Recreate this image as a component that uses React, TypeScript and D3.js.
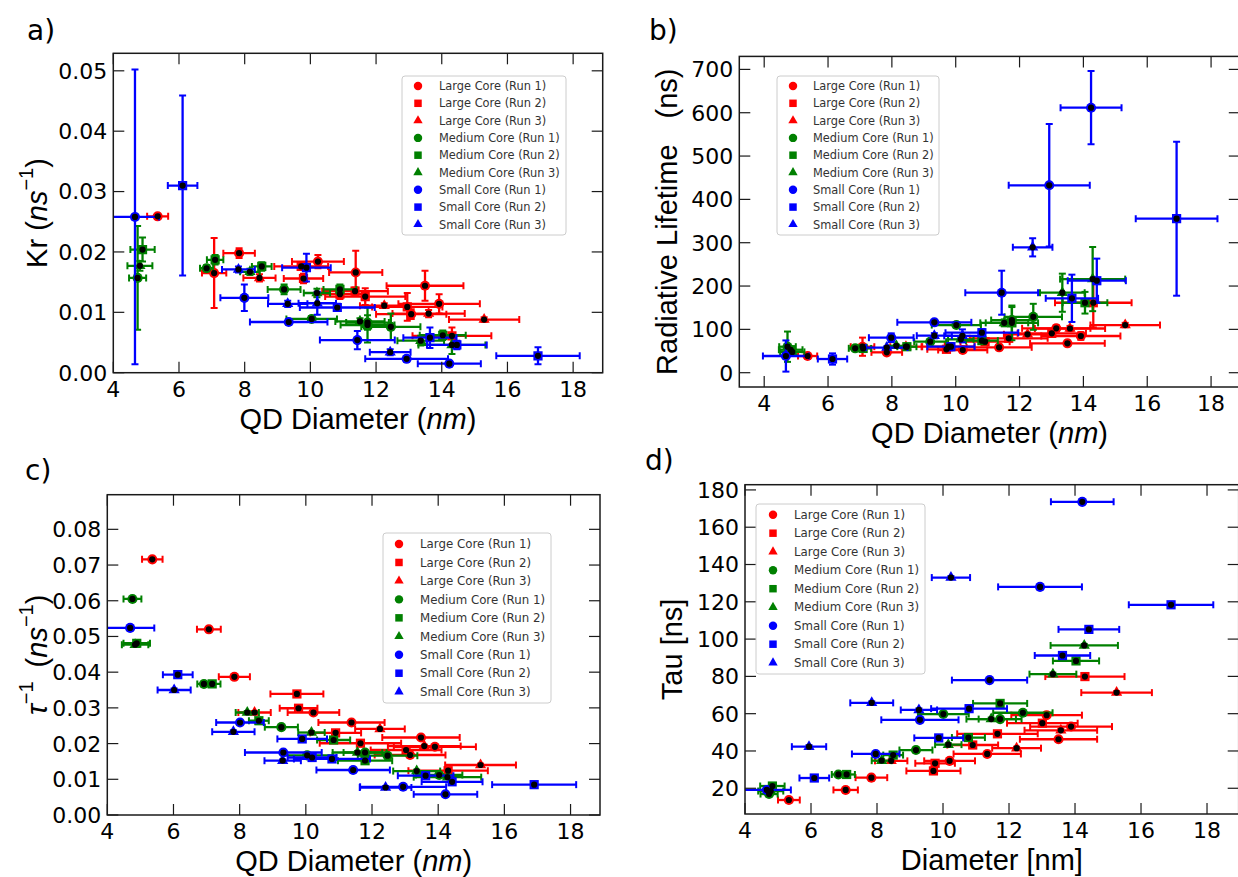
import React from 'react';
import * as d3 from 'd3';

// ---------- series ----------
const SERIES_NAMES = [
  'Large Core (Run 1)', 'Large Core (Run 2)', 'Large Core (Run 3)',
  'Medium Core (Run 1)', 'Medium Core (Run 2)', 'Medium Core (Run 3)',
  'Small Core (Run 1)', 'Small Core (Run 2)', 'Small Core (Run 3)',
];
const SERIES_COLORS = ['#ff0000', '#ff0000', '#ff0000', '#008000', '#008000', '#008000', '#0000ff', '#0000ff', '#0000ff'];
const SERIES_SHAPES = ['circle', 'square', 'triangle', 'circle', 'square', 'triangle', 'circle', 'square', 'triangle'];

// ---------- ticks ----------
const X_TICKS = [4, 6, 8, 10, 12, 14, 16, 18];
const KR_TICKS = [0, 0.01, 0.02, 0.03, 0.04, 0.05];
const LIFETIME_TICKS = [0, 100, 200, 300, 400, 500, 600, 700];
const INVTAU_TICKS = [0, 0.01, 0.02, 0.03, 0.04, 0.05, 0.06, 0.07, 0.08];
const TAU_TICKS = [20, 40, 60, 80, 100, 120, 140, 160, 180];

// [series index, diameter (nm), diameter error, value, value error]
type Pt = [number, number, number, number, number];

const krData: Pt[] = [
  [0, 5.35, 0.32, 0.0259, 0.0003], [0, 7.07, 0.37, 0.0165, 0.0058], [0, 7.83, 0.48, 0.0198, 0.0008],
  [2, 8.45, 0.49, 0.0157, 0.0006], [1, 9.72, 0.82, 0.0176, 0.0006], [1, 9.79, 0.6, 0.0156, 0.0008],
  [0, 10.23, 0.79, 0.0184, 0.0011], [1, 10.9, 0.77, 0.013, 0.0008], [0, 11.38, 0.81, 0.0166, 0.0036],
  [1, 11.36, 1.0, 0.0135, 0.0006], [1, 11.67, 1.22, 0.0126, 0.0014], [2, 12.25, 0.74, 0.0111, 0.0004],
  [1, 12.95, 1.07, 0.0109, 0.0023], [0, 13.07, 1.07, 0.0097, 0.0008], [2, 13.6, 1.1, 0.0098, 0.0006],
  [0, 13.92, 1.24, 0.0114, 0.0016], [0, 13.49, 1.17, 0.0144, 0.0025], [1, 14.31, 1.2, 0.0061, 0.0014],
  [2, 15.29, 1.07, 0.0088, 0.0004],
  [3, 4.74, 0.26, 0.0157, 0.0086], [5, 4.81, 0.38, 0.0177, 0.0008], [4, 4.89, 0.37, 0.0204, 0.002],
  [3, 6.84, 0.2, 0.0173, 0.0005], [4, 7.1, 0.25, 0.0187, 0.0008], [5, 8.16, 0.3, 0.0167, 0.0005],
  [4, 8.52, 0.3, 0.0176, 0.0007], [3, 9.2, 0.5, 0.0138, 0.0008], [3, 10.04, 0.77, 0.0089, 0.0005],
  [5, 10.2, 0.4, 0.0132, 0.0007], [4, 10.9, 0.5, 0.0138, 0.0008], [5, 11.51, 0.75, 0.0085, 0.0005],
  [3, 11.74, 0.65, 0.0083, 0.0012], [4, 11.74, 0.82, 0.0079, 0.0029], [3, 12.45, 0.9, 0.0076, 0.0022],
  [5, 13.36, 0.71, 0.0053, 0.0008], [4, 14.03, 0.7, 0.0062, 0.0008], [5, 14.31, 1.02, 0.0046, 0.0015],
  [6, 4.66, 0.73, 0.0258, 0.0244], [6, 7.99, 0.73, 0.0124, 0.0022], [6, 9.34, 1.18, 0.0084, 0.0004],
  [6, 11.43, 1.14, 0.0054, 0.0015], [6, 12.93, 1.26, 0.0023, 0.0004], [6, 14.23, 0.96, 0.0015, 0.0003],
  [7, 6.11, 0.45, 0.031, 0.0149], [7, 9.88, 0.74, 0.0174, 0.0023], [7, 10.82, 1.14, 0.0108, 0.0006],
  [7, 13.64, 0.81, 0.0058, 0.0017], [7, 14.46, 0.91, 0.0046, 0.0007], [7, 16.93, 1.27, 0.0028, 0.0014],
  [8, 7.81, 0.5, 0.0171, 0.0005], [8, 9.31, 0.6, 0.0114, 0.0005], [8, 10.21, 0.57, 0.0115, 0.0019],
  [8, 12.43, 0.62, 0.0034, 0.0005],
];

const lifetimeData: Pt[] = [
  [0, 5.36, 0.3, 38.5, 3], [0, 7.08, 0.37, 60, 21], [0, 7.84, 0.48, 47, 4],
  [2, 8.44, 0.49, 60, 4], [1, 9.77, 0.82, 60, 4], [1, 9.71, 0.6, 54, 4],
  [0, 10.22, 0.77, 52.4, 4], [1, 10.92, 0.77, 71.5, 5], [0, 11.36, 1.02, 58.6, 5],
  [1, 11.66, 1.22, 79.4, 6], [2, 12.25, 0.74, 88.6, 4], [1, 13.01, 1.07, 90.8, 8],
  [0, 13.15, 1.07, 102.4, 7], [2, 13.58, 1.1, 102, 6], [0, 13.92, 1.24, 84.7, 9],
  [0, 13.5, 1.17, 67.8, 6], [1, 14.31, 1.2, 161.5, 57], [2, 15.31, 1.09, 110, 5],
  [3, 4.73, 0.26, 60, 35], [4, 4.83, 0.37, 53, 6], [5, 4.88, 0.38, 48, 4],
  [3, 6.85, 0.2, 56.3, 3], [4, 7.1, 0.25, 56, 3], [5, 8.14, 0.3, 62, 3],
  [4, 8.47, 0.3, 60, 4], [3, 9.2, 0.5, 71.5, 4], [3, 10.02, 0.77, 110, 6],
  [5, 10.16, 0.4, 77, 4], [4, 10.82, 0.5, 74, 4], [5, 11.52, 0.75, 115, 8],
  [3, 11.76, 0.65, 121.5, 30], [4, 11.76, 0.82, 115, 40], [3, 12.43, 0.9, 129, 30],
  [5, 13.34, 0.7, 184.6, 44], [4, 14.05, 0.7, 161.5, 25], [5, 14.29, 1.02, 216, 74],
  [6, 4.68, 0.72, 38.5, 36], [6, 7.98, 0.7, 80.8, 10], [6, 9.33, 1.16, 116.3, 5],
  [6, 11.44, 1.14, 184.6, 50.8], [6, 12.93, 1.27, 432.5, 141.5], [6, 14.24, 0.955, 611.6, 84.6],
  [7, 6.14, 0.46, 31.6, 13], [7, 9.85, 0.74, 60, 8], [7, 10.82, 1.14, 92.3, 8],
  [7, 13.64, 0.82, 171.7, 54.6], [7, 14.42, 0.91, 212.3, 51], [7, 16.92, 1.28, 355.4, 177.7],
  [8, 7.84, 0.65, 58, 3], [8, 9.33, 0.55, 85.4, 6], [8, 10.21, 0.57, 85, 15],
  [8, 12.41, 0.62, 289.4, 21],
];

const invTauData: Pt[] = [
  [0, 5.36, 0.31, 0.0716, 0.0004], [0, 7.07, 0.36, 0.052, 0.0004], [0, 7.84, 0.47, 0.0387, 0.0004],
  [2, 8.45, 0.49, 0.0287, 0.0004], [1, 9.73, 0.8, 0.0339, 0.0004], [1, 9.78, 0.57, 0.0299, 0.0004],
  [0, 10.23, 0.78, 0.0287, 0.0004], [1, 10.9, 0.77, 0.023, 0.0004], [0, 11.38, 1.0, 0.0259, 0.0004],
  [1, 11.65, 1.23, 0.0201, 0.0004], [2, 12.24, 0.75, 0.0241, 0.0004], [1, 13.03, 1.07, 0.0182, 0.0004],
  [0, 13.15, 1.07, 0.0168, 0.0004], [2, 13.58, 1.1, 0.0193, 0.0004], [0, 13.9, 1.24, 0.0191, 0.0004],
  [0, 13.48, 1.17, 0.0217, 0.0004], [1, 14.3, 1.2, 0.0124, 0.0004], [2, 15.28, 1.07, 0.014, 0.0004],
  [3, 4.76, 0.27, 0.0605, 0.0004], [5, 4.84, 0.4, 0.0477, 0.0004], [4, 4.89, 0.4, 0.0481, 0.0004],
  [3, 6.92, 0.2, 0.0367, 0.0004], [4, 7.17, 0.25, 0.0367, 0.0004], [5, 8.23, 0.35, 0.0287, 0.0004],
  [4, 8.58, 0.3, 0.0264, 0.0004], [3, 9.26, 0.5, 0.0246, 0.0004], [3, 10.04, 0.77, 0.0167, 0.0004],
  [5, 10.17, 0.4, 0.0231, 0.0004], [4, 10.84, 0.5, 0.021, 0.0004], [5, 11.56, 0.75, 0.0175, 0.0004],
  [3, 11.79, 0.65, 0.0175, 0.0004], [4, 11.79, 0.82, 0.0152, 0.0004], [3, 12.47, 0.9, 0.0166, 0.0004],
  [5, 13.35, 0.71, 0.0123, 0.0004], [3, 14.03, 0.7, 0.0112, 0.0004], [5, 14.28, 1.02, 0.0106, 0.0004],
  [6, 4.69, 0.73, 0.0524, 0.0004], [6, 8.01, 0.72, 0.0259, 0.0004], [6, 9.32, 1.16, 0.0175, 0.0004],
  [6, 11.43, 1.11, 0.0126, 0.0004], [6, 12.94, 1.3, 0.0079, 0.0004], [6, 14.22, 0.96, 0.0058, 0.0004],
  [7, 6.13, 0.45, 0.0393, 0.0004], [7, 9.89, 0.75, 0.0213, 0.0004], [7, 10.19, 0.74, 0.0161, 0.0004],
  [7, 10.79, 1.15, 0.0157, 0.0004], [7, 13.62, 0.84, 0.011, 0.0004], [7, 14.42, 0.92, 0.0093, 0.0004],
  [7, 16.9, 1.27, 0.0085, 0.0004],
  [8, 6.02, 0.5, 0.035, 0.0004], [8, 7.81, 0.64, 0.0233, 0.0004], [8, 9.3, 0.55, 0.0152, 0.0004],
  [8, 12.41, 0.78, 0.0077, 0.0004],
];

const tauData: Pt[] = [
  [0, 5.33, 0.33, 13.7, 0.8], [0, 7.05, 0.37, 19.1, 0.8], [0, 7.83, 0.48, 25.7, 0.8],
  [2, 8.43, 0.49, 34.7, 0.8], [1, 9.71, 0.82, 29.3, 0.8], [1, 9.76, 0.6, 33.4, 0.8],
  [0, 10.2, 0.77, 34.7, 0.8], [1, 10.9, 0.77, 43.2, 0.8], [0, 11.34, 1.02, 38.4, 0.8],
  [1, 11.65, 1.22, 49.2, 0.8], [2, 12.23, 0.74, 41.5, 0.8], [1, 13.01, 1.07, 54.9, 0.8],
  [0, 13.14, 1.07, 59.2, 0.8], [2, 13.57, 1.1, 51.1, 0.8], [0, 13.88, 1.24, 53.1, 0.8],
  [0, 13.5, 1.17, 46.3, 0.8], [1, 14.3, 1.2, 79.9, 0.8], [2, 15.26, 1.07, 71.3, 0.8],
  [3, 4.73, 0.26, 16.9, 0.8], [5, 4.78, 0.38, 18.5, 0.8], [4, 4.83, 0.37, 21.2, 0.8],
  [3, 6.83, 0.2, 27.4, 0.8], [4, 7.08, 0.25, 27.4, 0.8], [5, 8.14, 0.3, 34.8, 0.8],
  [4, 8.49, 0.3, 37.8, 0.8], [3, 9.18, 0.5, 40.5, 0.8], [3, 10.01, 0.77, 59.8, 0.8],
  [5, 10.16, 0.4, 43.4, 0.8], [4, 10.77, 0.5, 47.2, 0.8], [5, 11.46, 0.75, 57.1, 0.8],
  [3, 11.73, 0.65, 57.1, 0.8], [4, 11.73, 0.82, 65.5, 0.8], [3, 12.42, 0.9, 60.5, 0.8],
  [5, 13.33, 0.71, 81.2, 0.8], [4, 14.03, 0.7, 88.3, 0.8], [5, 14.28, 1.02, 96.6, 0.8],
  [6, 4.66, 0.73, 19.1, 0.8], [6, 7.96, 0.72, 38.4, 0.8], [6, 9.3, 1.17, 56.7, 0.8],
  [6, 11.41, 1.14, 78, 0.8], [6, 12.94, 1.27, 128, 0.8], [6, 14.22, 0.95, 173.6, 0.8],
  [7, 6.1, 0.45, 25.5, 0.8], [7, 9.87, 0.74, 47, 0.8], [7, 10.79, 1.15, 62.7, 0.8],
  [7, 13.62, 0.84, 91.2, 0.8], [7, 14.42, 0.92, 105.2, 0.8], [7, 16.91, 1.28, 118.4, 0.8],
  [8, 5.94, 0.52, 42.3, 0.8], [8, 7.84, 0.65, 65.8, 0.8], [8, 9.27, 0.55, 62, 0.8],
  [8, 10.24, 0.58, 133, 0.8],
];

// ---------- layout / style ----------
const W = 1238;
const H = 877;
const TICK_FONT = 'DejaVu Sans, sans-serif';
const LABEL_FONT = 'Liberation Sans, Arial, sans-serif';
const SPINE = '#1a1a1a';

const symbolType: Record<string, d3.SymbolType> = {
  circle: d3.symbolCircle,
  square: d3.symbolSquare,
  triangle: d3.symbolTriangle,
};
const dataArea: Record<string, number> = { circle: 80, square: 85, triangle: 55 };
const legendArea: Record<string, number> = { circle: 56, square: 56, triangle: 38 };

interface Legend { x: number; y: number; w: number; h: number; row0: number; step: number; mx: number; tx: number; fs: number }
interface Cfg {
  id: string;
  data: Pt[];
  box: [number, number, number, number];
  xDomain: [number, number];
  yDomain: [number, number];
  yTicks: number[];
  yFmt: (v: number) => string;
  legend: Legend;
  tag: [string, number, number];
  xLabel: React.ReactNode;
  yLabel: React.ReactNode;
  yLabelX: number;
}

const f2 = d3.format('.2f');
const f0 = d3.format('d');

const sup = (t: string) => [
  <tspan key="s" dy={-11} fontSize={20}>{t}</tspan>,
];

const PANELS: Cfg[] = [
  {
    id: 'a', data: krData, box: [113.3, 53.3, 602.7, 372.7],
    xDomain: [4, 18.9], yDomain: [0, 0.0529], yTicks: KR_TICKS, yFmt: f2,
    legend: { x: 402, y: 76, w: 164, h: 159, row0: 86, step: 17.3, mx: 418, tx: 439, fs: 11.4 },
    tag: ['a)', 27, 40],
    xLabel: <>QD Diameter (<tspan fontStyle="italic">nm</tspan>)</>,
    yLabel: <>Kr (<tspan fontStyle="italic">ns</tspan>{sup('−1')}<tspan dy={11}>)</tspan></>,
    yLabelX: 37,
  },
  {
    id: 'b', data: lifetimeData, box: [739.3, 56.4, 1239.8, 387],
    xDomain: [3.22, 18.9], yDomain: [-33, 730], yTicks: LIFETIME_TICKS, yFmt: f0,
    legend: { x: 777, y: 76, w: 162, h: 159, row0: 86, step: 17.3, mx: 793, tx: 813, fs: 11.4 },
    tag: ['b)', 649, 40],
    xLabel: <>QD Diameter (<tspan fontStyle="italic">nm</tspan>)</>,
    yLabel: <>Radiative Lifetime<tspan dx={26}>(ns)</tspan></>,
    yLabelX: 667,
  },
  {
    id: 'c', data: invTauData, box: [107.3, 494.7, 600, 815],
    xDomain: [4, 18.89], yDomain: [0, 0.0897], yTicks: INVTAU_TICKS, yFmt: f2,
    legend: { x: 383, y: 533, w: 168, h: 170, row0: 544, step: 18.46, mx: 399, tx: 420, fs: 11.8 },
    tag: ['c)', 25, 480],
    xLabel: <>QD Diameter (<tspan fontStyle="italic">nm</tspan>)</>,
    yLabel: <><tspan fontStyle="italic">τ</tspan>{sup('−1')}<tspan dy={11} dx={14}>(</tspan><tspan fontStyle="italic">ns</tspan><tspan dy={-11} fontSize={20}>−1</tspan><tspan dy={11}>)</tspan></>,
    yLabelX: 37,
  },
  {
    id: 'd', data: tauData, box: [745, 484.7, 1238.7, 814],
    xDomain: [4, 18.96], yDomain: [6.2, 182.8], yTicks: TAU_TICKS, yFmt: f0,
    legend: { x: 756, y: 504, w: 169, h: 170, row0: 514.7, step: 18.5, mx: 773, tx: 794, fs: 11.8 },
    tag: ['d)', 645, 470],
    xLabel: <>Diameter [nm]</>,
    yLabel: <>Tau [ns]</>,
    yLabelX: 672,
  },
];

function sym(shape: string, area: number): string {
  return d3.symbol().type(symbolType[shape]).size(area)() || '';
}

function Panel({ cfg }: { cfg: Cfg }) {
  const [l, t, r, b] = cfg.box;
  const x = d3.scaleLinear().domain(cfg.xDomain).range([l, r]);
  const y = d3.scaleLinear().domain(cfg.yDomain).range([b, t]);
  const clip = `clip-${cfg.id}`;
  const cap = 3.5;
  const tickLen = 11;
  const ordered = d3.range(9).flatMap((s) => cfg.data.filter((p) => p[0] === s));
  return (
    <g>
      <defs>
        <clipPath id={clip}><rect x={l} y={t} width={r - l} height={b - t} /></clipPath>
      </defs>
      <g clipPath={`url(#${clip})`}>
        {ordered.map((p, i) => {
          const [s, dx, dxe, v, ve] = p;
          const c = SERIES_COLORS[s];
          const cx = x(dx), cy = y(v);
          const x0 = x(dx - dxe), x1 = x(dx + dxe);
          const y0 = y(v - ve), y1 = y(v + ve);
          return (
            <g key={i} stroke={c} strokeWidth={2.3} fill="none">
              <line x1={x0} x2={x1} y1={cy} y2={cy} />
              <line x1={x0} x2={x0} y1={cy - cap} y2={cy + cap} strokeWidth={2} />
              <line x1={x1} x2={x1} y1={cy - cap} y2={cy + cap} strokeWidth={2} />
              <line x1={cx} x2={cx} y1={y0} y2={y1} />
              <line x1={cx - cap} x2={cx + cap} y1={y0} y2={y0} strokeWidth={2} />
              <line x1={cx - cap} x2={cx + cap} y1={y1} y2={y1} strokeWidth={2} />
              <path d={sym(SERIES_SHAPES[s], dataArea[SERIES_SHAPES[s]])} transform={`translate(${cx},${cy})`} fill={c} stroke="none" />
            </g>
          );
        })}
        {cfg.data.map((p, i) => (
          <circle key={`k${i}`} cx={x(p[1])} cy={y(p[3])} r={3.1} fill="#000" />
        ))}
      </g>
      {/* spines */}
      <rect x={l} y={t} width={r - l} height={b - t} fill="none" stroke={SPINE} strokeWidth={1.5} />
      {/* ticks */}
      {X_TICKS.map((v) => (
        <g key={`xt${v}`} stroke={SPINE} strokeWidth={1.2}>
          <line x1={x(v)} x2={x(v)} y1={b} y2={b - tickLen} />
          <line x1={x(v)} x2={x(v)} y1={t} y2={t + tickLen} />
        </g>
      ))}
      {cfg.yTicks.map((v) => (
        <g key={`yt${v}`} stroke={SPINE} strokeWidth={1.2}>
          <line x1={l} x2={l + tickLen} y1={y(v)} y2={y(v)} />
          <line x1={r} x2={r - tickLen} y1={y(v)} y2={y(v)} />
        </g>
      ))}
      {X_TICKS.map((v) => (
        <text key={`xl${v}`} x={x(v)} y={b + 24} textAnchor="middle" fontFamily={TICK_FONT} fontSize={22} fill="#000">{v}</text>
      ))}
      {cfg.yTicks.map((v) => (
        <text key={`yl${v}`} x={l - 6} y={y(v)} dy="0.36em" textAnchor="end" fontFamily={TICK_FONT} fontSize={22} fill="#000">{cfg.yFmt(v)}</text>
      ))}
      {/* axis labels */}
      <text x={(l + r) / 2} y={b + 56} textAnchor="middle" fontFamily={LABEL_FONT} fontSize={29} fill="#000">{cfg.xLabel}</text>
      <text transform={`translate(${cfg.yLabelX},${(t + b) / 2}) rotate(-90)`} textAnchor="middle" dominantBaseline="central" fontFamily={LABEL_FONT} fontSize={29} fill="#000">{cfg.yLabel}</text>
      <text x={cfg.tag[1]} y={cfg.tag[2]} fontFamily={TICK_FONT} fontSize={28} fill="#000">{cfg.tag[0]}</text>
      {/* legend */}
      <g>
        <rect x={cfg.legend.x} y={cfg.legend.y} width={cfg.legend.w} height={cfg.legend.h} rx={3} fill="#fff" fillOpacity={0.85} stroke="#cccccc" strokeWidth={1} />
        {SERIES_NAMES.map((name, i) => {
          const ry = cfg.legend.row0 + i * cfg.legend.step;
          return (
            <g key={name}>
              <path d={sym(SERIES_SHAPES[i], legendArea[SERIES_SHAPES[i]])} transform={`translate(${cfg.legend.mx},${ry})`} fill={SERIES_COLORS[i]} />
              <text x={cfg.legend.tx} y={ry} dy="0.36em" fontFamily={TICK_FONT} fontSize={cfg.legend.fs} fill="#333">{name}</text>
            </g>
          );
        })}
      </g>
    </g>
  );
}

export default function App() {
  return (
    <svg width={W} height={H} viewBox={`0 0 ${W} ${H}`} style={{ position: 'absolute', left: 0, top: 0, background: '#fff' }}>
      <rect x={0} y={0} width={W} height={H} fill="#fff" />
      {PANELS.map((p) => <Panel key={p.id} cfg={p} />)}
    </svg>
  );
}
